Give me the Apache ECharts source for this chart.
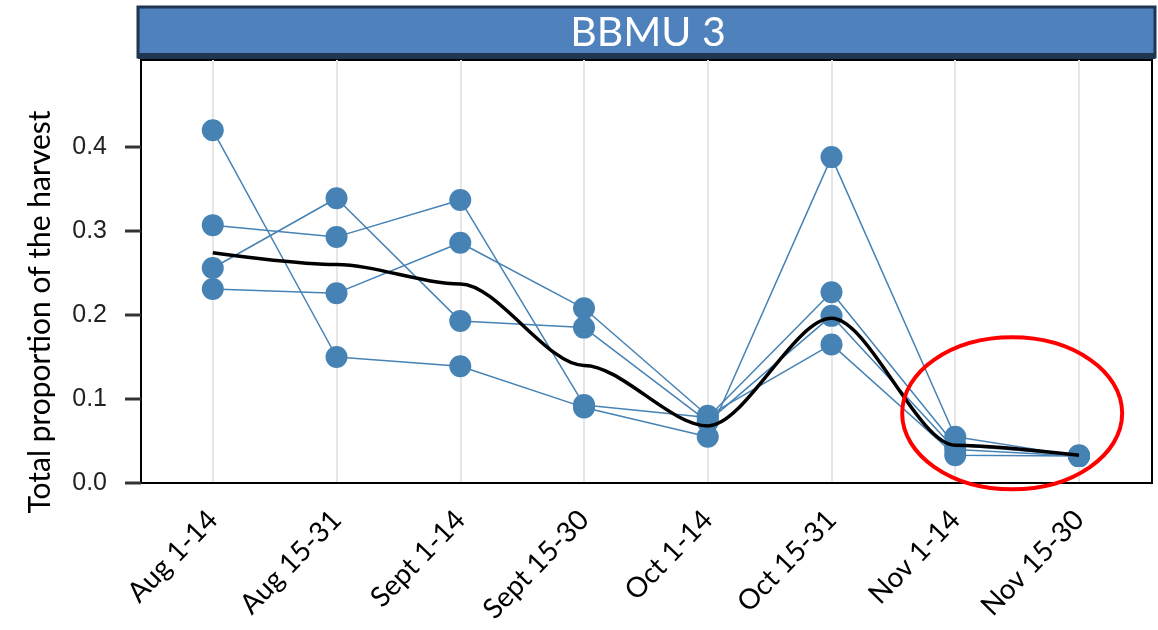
<!DOCTYPE html>
<html>
<head>
<meta charset="utf-8">
<script src="https://cdn.jsdelivr.net/npm/echarts@6/dist/echarts.min.js"></script>
<style>
  html, body { margin: 0; padding: 0; background: #fff; }
  #chart { width: 1158px; height: 630px; }
</style>
</head>
<body>
<div id="chart"></div>
<script>
// harvest periods (x categories)
var periods = ['Aug 1-14', 'Aug 15-31', 'Sept 1-14', 'Sept 15-30', 'Oct 1-14', 'Oct 15-31', 'Nov 1-14', 'Nov 15-30'];

// proportion of the harvest, one array per year
var yearA = [0.420, 0.150, 0.139, 0.090, 0.055, 0.388, 0.055, 0.032];
var yearB = [0.307, 0.293, 0.337, 0.093, 0.078, 0.227, 0.045, 0.033];
var yearC = [0.256, 0.339, 0.193, 0.185, 0.073, 0.199, 0.040, 0.032];
var yearD = [0.231, 0.226, 0.286, 0.208, 0.080, 0.165, 0.033, 0.032];

// smoothed average (black line)
var smoothAvg = [0.274, 0.260, 0.237, 0.140, 0.068, 0.196, 0.045, 0.033];

var yTicks = [0, 0.1, 0.2, 0.3, 0.4];
var xTicks = periods.map(function (p, i) { return i; });

var blue = '#4682b4';

function toPairs(vals) {
  return vals.map(function (v, i) { return [i, v]; });
}

function yearSeries(vals) {
  return {
    type: 'line',
    data: toPairs(vals),
    symbol: 'circle',
    symbolSize: 22,
    lineStyle: { color: blue, width: 1.5 },
    itemStyle: { color: blue },
    z: 2,
    silent: true
  };
}

var myChart = echarts.init(document.getElementById('chart'));

var option = {
  backgroundColor: '#fff',
  animation: false,
  grid: {
    left: 141, right: 6, top: 60, bottom: 147,
    show: true, borderColor: '#000', borderWidth: 2, backgroundColor: 'transparent'
  },
  xAxis: {
    type: 'value',
    min: -0.58,
    max: 7.59,
    axisLine: { show: true, onZero: false, lineStyle: { color: '#000', width: 2 } },
    axisTick: { show: false, customValues: xTicks },
    axisLabel: {
      customValues: xTicks,
      rotate: 46,
      margin: 32,
      fontFamily: 'Lato',
      fontSize: 28,
      color: '#000',
      formatter: function (v) { return periods[Math.round(v)]; }
    },
    splitLine: { show: true, lineStyle: { color: '#e6e6e6', width: 2 } }
  },
  yAxis: {
    type: 'value',
    position: 'left',
    min: 0,
    max: 0.5036,
    axisLine: { show: true, onZero: false, lineStyle: { color: '#000', width: 2 } },
    axisTick: { show: false, customValues: yTicks },
    axisLabel: {
      customValues: yTicks,
      margin: 34,
      fontFamily: 'Liberation Sans',
      fontSize: 25,
      color: '#222',
      formatter: function (v) { return v.toFixed(1); }
    },
    splitLine: { show: false }
  },
  series: [
    yearSeries(yearA),
    yearSeries(yearB),
    yearSeries(yearC),
    yearSeries(yearD),
    {
      type: 'line',
      data: toPairs(smoothAvg),
      smooth: 0.3,
      smoothMonotone: 'x',
      symbol: 'none',
      lineStyle: { color: '#000', width: 3.5 },
      z: 5,
      silent: true
    }
  ]
};

myChart.setOption(option);

// title bar, axis name, y tick marks and the red ellipse annotation
var c = myChart.convertToPixel({ gridIndex: 0 }, [6.46, 0.083]);
var tickMarks = yTicks.map(function (v) {
  var p = myChart.convertToPixel({ gridIndex: 0 }, [-0.58, v]);
  return {
    type: 'rect',
    shape: { x: p[0] - 16, y: p[1] - 1.5, width: 16, height: 3 },
    style: { fill: '#333' },
    z: 9
  };
});
myChart.setOption({
  graphic: tickMarks.concat([
    {
      type: 'rect',
      shape: { x: 138, y: 7, width: 1017, height: 50 },
      style: { fill: '#4f81bd', stroke: '#1f3550', lineWidth: 3 },
      z: 10
    },
    {
      type: 'rect',
      shape: { x: 138, y: 53, width: 1017, height: 6 },
      style: { fill: '#1f3550' },
      z: 11
    },
    {
      type: 'text',
      x: 648, y: 33,
      style: {
        text: 'BBMU 3', fill: '#fff', font: '41px Lato',
        align: 'center', verticalAlign: 'middle'
      },
      z: 12
    },
    {
      type: 'text',
      x: 40, y: 312,
      rotation: Math.PI / 2,
      style: {
        text: 'Total proportion of the harvest', fill: '#000', font: '30px Lato',
        align: 'center', verticalAlign: 'middle'
      },
      z: 12
    },
    {
      type: 'ellipse',
      shape: { cx: c[0], cy: c[1], rx: 110, ry: 76 },
      style: { fill: 'none', stroke: '#ff0000', lineWidth: 4 },
      z: 20
    }
  ])
});

window.addEventListener('resize', function () {
  myChart.resize();
});
</script>
</body>
</html>
